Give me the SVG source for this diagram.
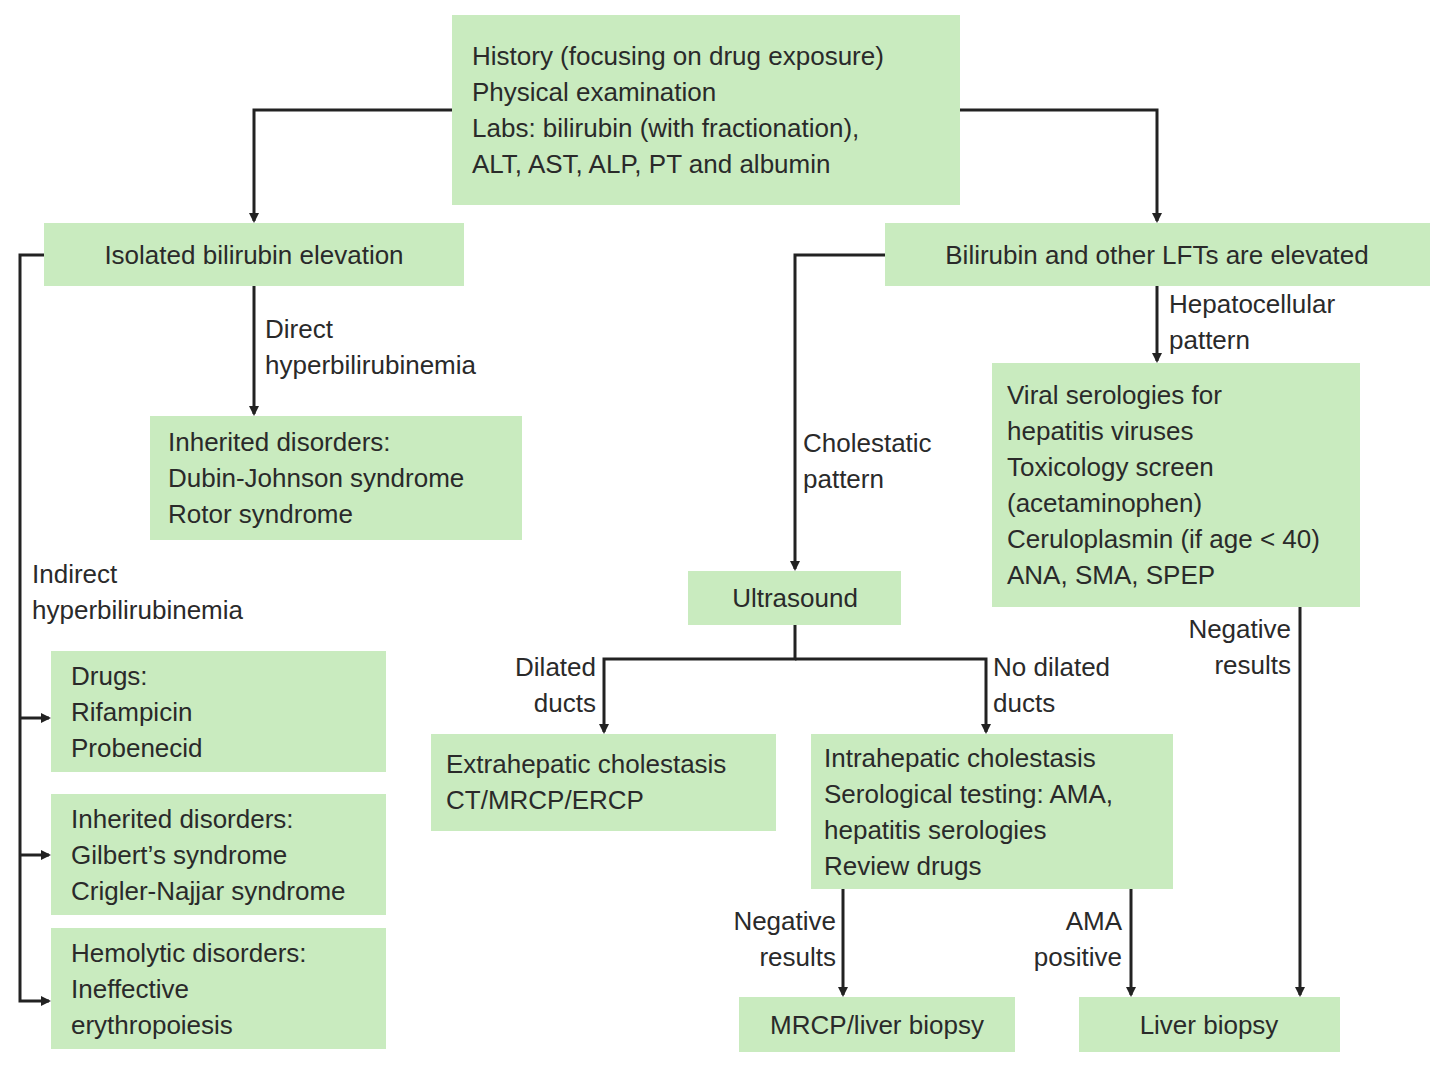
<svg xmlns="http://www.w3.org/2000/svg" width="1431" height="1066" viewBox="0 0 1431 1066">
<style>
.b{fill:#c9ebbf}
text{font-family:"Liberation Sans",Arial,sans-serif;font-size:26px;fill:#2a2a2a}
.c{fill:none;stroke:#222;stroke-width:3}
.m{text-anchor:middle}.e{text-anchor:end}
</style>
<defs><marker id="a" markerWidth="10" markerHeight="10" refX="8" refY="5" orient="auto" markerUnits="userSpaceOnUse"><path d="M0,0L10,5L0,10z" fill="#222"/></marker></defs>
<rect width="1431" height="1066" fill="#fff"/>
<g id="connectors">
<path class="c" d="M452,110H254V221" marker-end="url(#a)"/>
<path class="c" d="M960,110H1157V221" marker-end="url(#a)"/>
<path class="c" d="M254,286V414" marker-end="url(#a)"/>
<path class="c" d="M44,255H20V1001H49" marker-end="url(#a)"/>
<path class="c" d="M20,718H49" marker-end="url(#a)"/>
<path class="c" d="M20,855H49" marker-end="url(#a)"/>
<path class="c" d="M885,255H795V569" marker-end="url(#a)"/>
<path class="c" d="M1157,286V361" marker-end="url(#a)"/>
<path class="c" d="M795,625V659H604V732" marker-end="url(#a)"/>
<path class="c" d="M795,659H986V732" marker-end="url(#a)"/>
<path class="c" d="M843,889V995" marker-end="url(#a)"/>
<path class="c" d="M1131,889V995" marker-end="url(#a)"/>
<path class="c" d="M1300,607V995" marker-end="url(#a)"/>
<text x="265" y="338">Direct</text><text x="265" y="374">hyperbilirubinemia</text>
<text x="32" y="583">Indirect</text><text x="32" y="619">hyperbilirubinemia</text>
<text x="803" y="452">Cholestatic</text><text x="803" y="488">pattern</text>
<text x="1169" y="313">Hepatocellular</text><text x="1169" y="349">pattern</text>
<text x="596" y="676" class="e">Dilated</text><text x="596" y="712" class="e">ducts</text>
<text x="993" y="676">No dilated</text><text x="993" y="712">ducts</text>
<text x="1291" y="638" class="e">Negative</text><text x="1291" y="674" class="e">results</text>
<text x="836" y="930" class="e">Negative</text><text x="836" y="966" class="e">results</text>
<text x="1122" y="930" class="e">AMA</text><text x="1122" y="966" class="e">positive</text>
</g>
<g id="top"><rect class="b" x="452" y="15" width="508" height="190"/>
<text x="472" y="65">History (focusing on drug exposure)</text><text x="472" y="101">Physical examination</text><text x="472" y="137">Labs: bilirubin (with fractionation),</text><text x="472" y="173">ALT, AST, ALP, PT and albumin</text></g>
<g id="isolated"><rect class="b" x="44" y="223" width="420" height="63"/><text x="254" y="264" class="m">Isolated bilirubin elevation</text></g>
<g id="lft"><rect class="b" x="885" y="223" width="545" height="63"/><text x="1157" y="264" class="m">Bilirubin and other LFTs are elevated</text></g>
<g id="inh1"><rect class="b" x="150" y="416" width="372" height="124"/><text x="168" y="451">Inherited disorders:</text><text x="168" y="487">Dubin-Johnson syndrome</text><text x="168" y="523">Rotor syndrome</text></g>
<g id="viral"><rect class="b" x="992" y="363" width="368" height="244"/><text x="1007" y="404">Viral serologies for</text><text x="1007" y="440">hepatitis viruses</text><text x="1007" y="476">Toxicology screen</text><text x="1007" y="512">(acetaminophen)</text><text x="1007" y="548">Ceruloplasmin (if age &lt; 40)</text><text x="1007" y="584">ANA, SMA, SPEP</text></g>
<g id="us"><rect class="b" x="688" y="571" width="213" height="54"/><text x="795" y="607" class="m">Ultrasound</text></g>
<g id="extra"><rect class="b" x="431" y="734" width="345" height="97"/><text x="446" y="773">Extrahepatic cholestasis</text><text x="446" y="809">CT/MRCP/ERCP</text></g>
<g id="intra"><rect class="b" x="811" y="734" width="362" height="155"/><text x="824" y="767">Intrahepatic cholestasis</text><text x="824" y="803">Serological testing: AMA,</text><text x="824" y="839">hepatitis serologies</text><text x="824" y="875">Review drugs</text></g>
<g id="drugs"><rect class="b" x="51" y="651" width="335" height="121"/><text x="71" y="685">Drugs:</text><text x="71" y="721">Rifampicin</text><text x="71" y="757">Probenecid</text></g>
<g id="inh2"><rect class="b" x="51" y="794" width="335" height="121"/><text x="71" y="828">Inherited disorders:</text><text x="71" y="864">Gilbert’s syndrome</text><text x="71" y="900">Crigler-Najjar syndrome</text></g>
<g id="hemo"><rect class="b" x="51" y="928" width="335" height="121"/><text x="71" y="962">Hemolytic disorders:</text><text x="71" y="998">Ineffective</text><text x="71" y="1034">erythropoiesis</text></g>
<g id="mrcp"><rect class="b" x="739" y="997" width="276" height="55"/><text x="877" y="1034" class="m">MRCP/liver biopsy</text></g>
<g id="lb"><rect class="b" x="1079" y="997" width="261" height="55"/><text x="1209" y="1034" class="m">Liver biopsy</text></g>
</svg>
